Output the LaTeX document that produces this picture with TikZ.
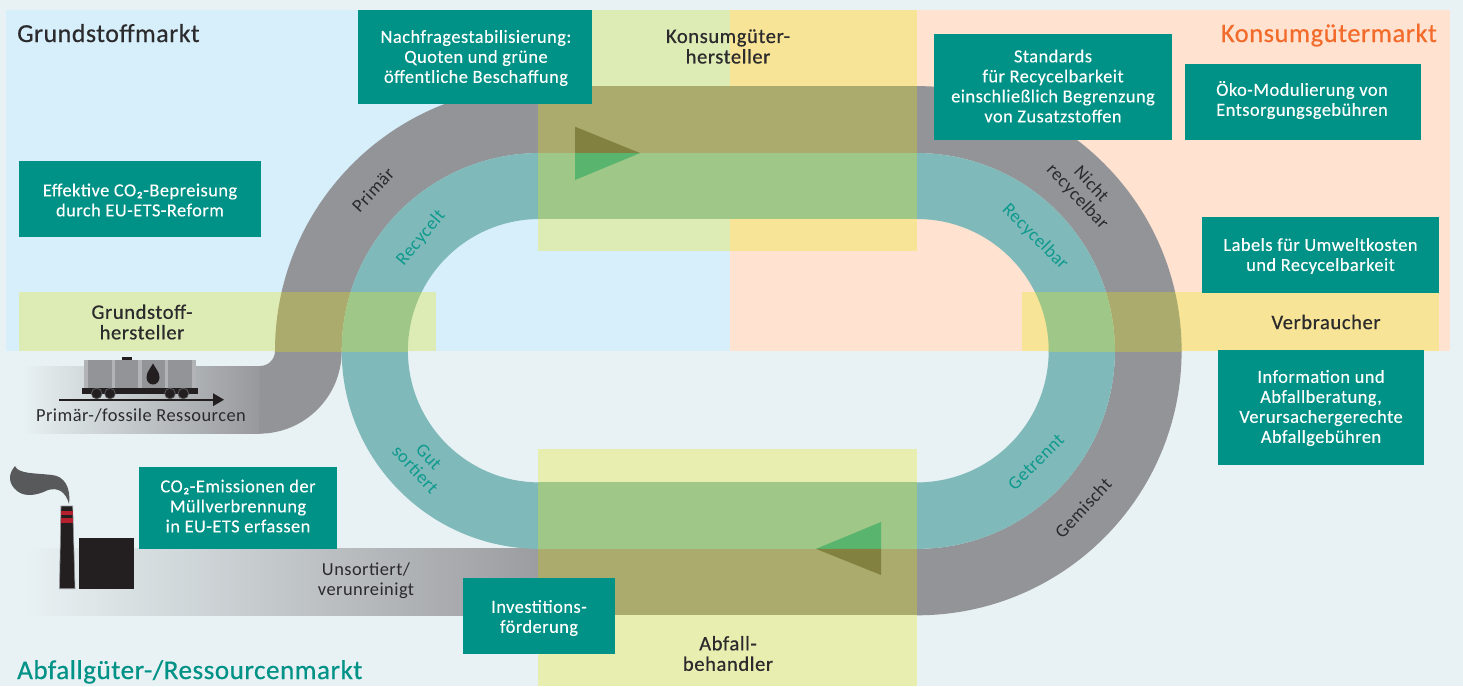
\documentclass[tikz,border=0pt]{standalone}
\usepackage{fontspec}
\setmainfont[LetterSpace=2.5]{Carlito}
\newfontfamily\medfont[FakeBold=0.5,LetterSpace=2.8]{Carlito}
\newfontfamily\marketfont[FakeBold=0.5,LetterSpace=2]{Carlito}
\newfontfamily\whitefont[FakeBold=0.2,LetterSpace=2.5]{Carlito}
\definecolor{bgc}{HTML}{E8F1F3}
\definecolor{bluec}{HTML}{D6EFFA}
\definecolor{orangec}{HTML}{FFE2D0}
\definecolor{grayc}{HTML}{939498}
\definecolor{ringc}{HTML}{7FB9BA}
\definecolor{boxgreen}{HTML}{DDECB5}
\definecolor{boxyellow}{HTML}{F7E496}
\definecolor{boxlime}{HTML}{E8EDB0}
\definecolor{olivec}{HTML}{ABAB6E}
\definecolor{greenc}{HTML}{9FC788}
\definecolor{darkolive}{HTML}{828140}
\definecolor{trigreen}{HTML}{59B56E}
\definecolor{tealc}{HTML}{009286}
\definecolor{inkc}{HTML}{2B2A2C}
\definecolor{titleorange}{HTML}{F26B2A}
\definecolor{labelteal}{HTML}{0E9A8D}
\definecolor{blackc}{HTML}{231F20}
\definecolor{redc}{HTML}{B5202F}
\definecolor{smokec}{HTML}{58595B}
\definecolor{bandc}{HTML}{B2B3B6}
\newcommand{\graytrack}{(539.6,86.1) -- (917,86.1) arc[start angle=90,end angle=-90,radius=264.6pt] -- (539.6,615.3) -- (539.6,548.85) -- (917,548.85) arc[start angle=-90,end angle=90,radius=197.9pt] -- (539.6,153.05) arc[start angle=90,end angle=180,radius=197.9pt] arc[start angle=0,end angle=-90,radius=82.7pt] -- (260,366) arc[start angle=-90,end angle=0,radius=15pt] arc[start angle=180,end angle=90,radius=264.6pt] -- cycle}
\newcommand{\ringtrack}{(539.6,153.05) -- (917,153.05) arc[start angle=90,end angle=-90,radius=197.9pt] -- (539.6,548.85) arc[start angle=-90,end angle=-270,radius=197.9pt] -- cycle (539.6,219) -- (917,219) arc[start angle=90,end angle=-90,radius=131.7pt] -- (539.6,482.4) arc[start angle=-90,end angle=-270,radius=131.7pt] -- cycle}
\tikzset{
  measurebox/.style={fill=tealc},
  measure/.style={text=white,inner sep=0pt,align=center,font=\whitefont\fontsize{18.4}{20}\selectfont},
  actor/.style={text=inkc,inner sep=0pt,align=center,font=\medfont\fontsize{20.6}{20.5}\selectfont},
  market/.style={inner sep=0pt,anchor=base west,font=\marketfont\fontsize{26.5}{28}\selectfont},
  flowdark/.style={text=inkc,inner sep=0pt,align=center,font=\fontsize{18.4}{20}\selectfont},
  flowteal/.style={text=labelteal,inner sep=0pt,align=center,font=\fontsize{18.4}{18.5}\selectfont},
  wheel/.style={fill=blackc,draw=smokec,line width=0.8pt}
}
\begin{document}
\begin{tikzpicture}[x=1pt,y=-1pt]
\useasboundingbox (0,0) rectangle (1463,686);
% backgrounds
\fill[bgc] (0,0) rectangle (1463,686);
\fill[bluec] (6,10) rectangle (730,351);
\fill[orangec] (730,10) rectangle (1450,351);
% tails
\shade[left color=bgc,right color=grayc!96!white] (22,366) rectangle (260.5,433.65);
\shade[left color=bgc,right color=grayc!92!white] (25,548.85) rectangle (540,615.3);
% tracks
\fill[grayc] \graytrack;
\fill[ringc,even odd rule] \ringtrack;
% left and right actor bands
\fill[boxgreen] (19,292) rectangle (436,351);
\begin{scope}
  \clip (19,292) rectangle (436,351);
  \fill[olivec] \graytrack;
  \fill[greenc,even odd rule] \ringtrack;
\end{scope}
\fill[boxyellow] (1022,292) rectangle (1439,351);
\begin{scope}
  \clip (1022,292) rectangle (1439,351);
  \fill[olivec] \graytrack;
  \fill[greenc,even odd rule] \ringtrack;
\end{scope}
% top actor
\fill[boxgreen] (538,10) rectangle (730,251);
\fill[boxyellow] (729.5,10) rectangle (917,251);
\fill[olivec] (538,86.1) rectangle (917,153.05);
\fill[greenc] (538,153.05) rectangle (917,219);
% bottom actor
\fill[boxlime] (538,449) rectangle (917,686);
\fill[greenc] (538,482.4) rectangle (917,548.85);
\fill[olivec] (538,548.85) rectangle (917,615.3);
% direction triangles
\fill[darkolive] (575,126.7) -- (640,153.05) -- (575,153.05) -- cycle;
\fill[trigreen] (575,180) -- (640,153.05) -- (575,153.05) -- cycle;
\fill[trigreen] (881,522) -- (816,548.85) -- (881,548.85) -- cycle;
\fill[darkolive] (881,575) -- (816,548.85) -- (881,548.85) -- cycle;
% train
\fill[blackc] (122,357) rectangle (132,360);
\fill[grayc] (84,360) rectangle (196,388);
\foreach \bx/\bw in {84/4,111.7/3.3,138.3/3.3,165/3.3,191.7/4.3}
  \fill[bandc] (\bx,360) rectangle ++(\bw,28);
\fill[blackc] (82,388) rectangle (198,394);
\foreach \wx in {96.7,110,170,183.3}
  \draw[wheel] (\wx,393.5) circle[radius=5.3pt];
\fill[blackc] (153,363.5) .. controls (150,369) and (146.5,372) .. (146.5,377.5) .. controls (146.5,381.5) and (149.5,384.5) .. (153,384.5) .. controls (156.5,384.5) and (159.5,381.5) .. (159.5,377.5) .. controls (159.5,372) and (156,369) .. (153,363.5) -- cycle;
\coordinate (railstart) at (59,399.7);
\coordinate (railend) at (213,399.7);
\draw[blackc,line width=2.2pt] (railstart) -- (railend);
\fill[blackc] (213,393.2) -- (224,399.7) -- (213,406.2) -- cycle;
% factory
\fill[smokec] (15,466) .. controls (18,474) and (35,473) .. (52,475) .. controls (64,476) and (71,487) .. (69,504) .. controls (66,492) and (58,487) .. (48,490) .. controls (36,496) and (22,498) .. (14,488) .. controls (8,481) and (9,473) .. (15,466) -- cycle;
\fill[blackc,draw=grayc,line width=0.6pt] (61,506) -- (72.7,506) -- (75,588.7) -- (59.5,588.7) -- cycle;
\fill[redc] (61,510.7) rectangle (72.7,515);
\fill[redc] (61,517.7) rectangle (72.7,522.7);
\fill[blackc] (79,538) rectangle (134,589);
% measures
\fill[measurebox] (358,10) rectangle (592,104);
\node[measure] (nachfrage) at (476,58) {Nachfragestabilisierung:\\Quoten und grüne\\öffentliche Beschaffung};
\fill[measurebox] (934,34) rectangle (1172,140);
\node[measure] (standards) at (1053,86) {Standards\\für Recycelbarkeit\\einschließlich Begrenzung\\von Zusatzstoffen};
\fill[measurebox] (1185,64) rectangle (1421,140);
\node[measure] (oeko) at (1302,100) {Öko-Modulierung von\\Entsorgungsgebühren};
\fill[measurebox] (1202,217) rectangle (1439,293);
\node[measure] (labels) at (1320.5,256) {Labels für Umweltkosten\\und Recycelbarkeit};
\fill[measurebox] (1218,350) rectangle (1424,465);
\node[measure] (info) at (1321,408) {Information und\\Abfallberatung,\\Verursachergerechte\\Abfallgebühren};
\fill[measurebox] (19,161) rectangle (261,237);
\node[measure] (effektiv) at (140,200) {Effektive CO₂-Bepreisung\\durch EU-ETS-Reform};
\fill[measurebox] (139,467) rectangle (337,549);
\node[measure] (emission) at (238,506) {CO₂-Emissionen der\\Müllverbrennung\\in EU-ETS erfassen};
\fill[measurebox] (463,578) rectangle (615,654);
\node[measure] (invest) at (539,618) {Investitions-\\förderung};
% actors
\node[actor] (konsum) at (728,46.5) {Konsumgüter-\\hersteller};
\node[actor] (grund) at (142,322) {Grundstoff-\\hersteller};
\node[actor] (verbraucher) at (1326,322) {Verbraucher};
\node[actor] (abfall) at (728,653.5) {Abfall-\\behandler};
% markets
\node[market,text=inkc,font=\marketfont\fontsize{25.9}{28}\selectfont] (m1) at (17,42) {Grundstoffmarkt};
\node[market,text=titleorange,anchor=base east] (m2) at (1437,42) {Konsumgütermarkt};
\node[market,text=tealc,font=\marketfont\fontsize{27.1}{28}\selectfont] (m3) at (17,679) {Abfallgüter-/Ressourcenmarkt};
% flow labels
\node[flowdark,rotate=47] (primaer) at (373,190) {Primär};
\node[flowteal,rotate=50] (recycelt) at (421,238) {Recycelt};
\node[flowdark,rotate=-47,font=\fontsize{18.4}{18.5}\selectfont] (nicht) at (1084,191) {Nicht\\recycelbar};
\node[flowteal,rotate=-45] (recycelbar) at (1035,237) {Recycelbar};
\node[flowteal,rotate=45] (getrennt) at (1036,462) {Getrennt};
\node[flowdark,rotate=47] (gemischt) at (1083,508) {Gemischt};
\node[flowteal,rotate=-47] (gut) at (422,463) {Gut\\sortiert};
\node[flowdark] (unsortiert) at (366,581) {Unsortiert/\\verunreinigt};
\node[flowdark] (primaerres) at (141,415) {Primär-/fossile Ressourcen};
\end{tikzpicture}
\end{document}
